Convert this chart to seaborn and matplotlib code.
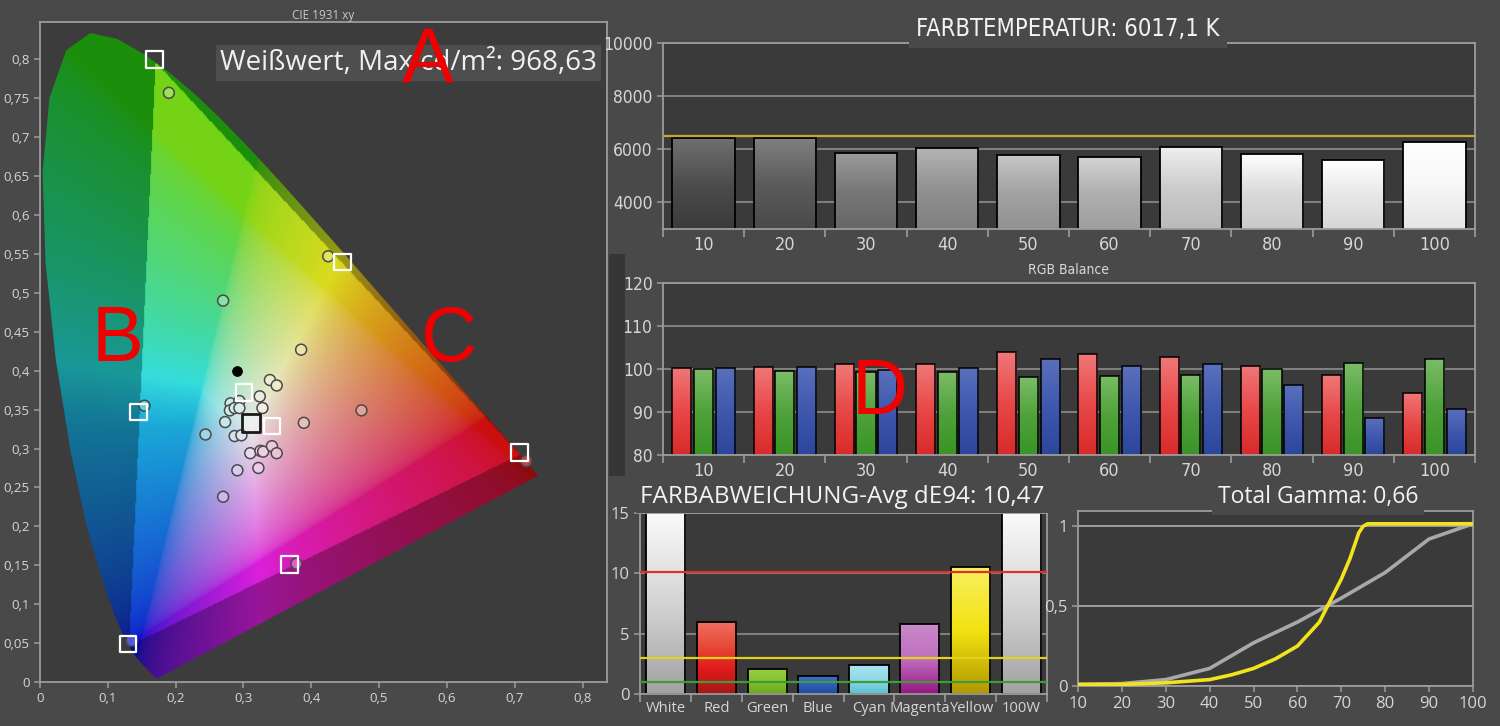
import numpy as np
import pandas as pd
import matplotlib
matplotlib.use("Agg")
import matplotlib.pyplot as plt
import matplotlib.colors as mcolors
from matplotlib import font_manager as fm
from matplotlib.patches import Polygon, Rectangle
from matplotlib.path import Path
import seaborn as sns

# ---------------- data ----------------
locus_x = [0.1741, 0.1740, 0.1738, 0.1736, 0.1733, 0.1730, 0.1726, 0.1721, 0.1714, 0.1703,
           0.1689, 0.1669, 0.1644, 0.1611, 0.1566, 0.1510, 0.1440, 0.1355, 0.1241, 0.1096,
           0.0913, 0.0687, 0.0454, 0.0235, 0.0082, 0.0039, 0.0139, 0.0389, 0.0743, 0.1142,
           0.1547, 0.1929, 0.2296, 0.2658, 0.3016, 0.3373, 0.3731, 0.4087, 0.4441, 0.4788,
           0.5125, 0.5448, 0.5752, 0.6029, 0.6270, 0.6482, 0.6658, 0.6801, 0.6915, 0.7006,
           0.7079, 0.7140, 0.7190, 0.7230, 0.7260, 0.7283, 0.7300, 0.7311, 0.7320, 0.7334, 0.7347]
locus_y = [0.0050, 0.0050, 0.0049, 0.0049, 0.0048, 0.0048, 0.0048, 0.0048, 0.0051, 0.0058,
           0.0069, 0.0086, 0.0109, 0.0138, 0.0177, 0.0227, 0.0297, 0.0399, 0.0578, 0.0868,
           0.1327, 0.2007, 0.2950, 0.4127, 0.5384, 0.6548, 0.7502, 0.8120, 0.8338, 0.8262,
           0.8059, 0.7816, 0.7543, 0.7243, 0.6923, 0.6589, 0.6245, 0.5896, 0.5547, 0.5202,
           0.4866, 0.4544, 0.4242, 0.3965, 0.3725, 0.3514, 0.3340, 0.3197, 0.3083, 0.2993,
           0.2920, 0.2859, 0.2809, 0.2770, 0.2740, 0.2717, 0.2700, 0.2689, 0.2680, 0.2666, 0.2653]
gamut_x = [0.170, 0.708, 0.131]
gamut_y = [0.797, 0.292, 0.046]

meas_x = [0.190, 0.425, 0.270, 0.385, 0.339, 0.349, 0.324, 0.281, 0.294, 0.280, 0.287, 0.294,
          0.328, 0.474, 0.273, 0.389, 0.244, 0.287, 0.297, 0.154, 0.310, 0.325, 0.329, 0.342,
          0.349, 0.322, 0.291, 0.270, 0.378, 0.135, 0.717]
meas_y = [0.757, 0.547, 0.490, 0.427, 0.388, 0.381, 0.367, 0.358, 0.361, 0.349, 0.352, 0.352,
          0.352, 0.349, 0.334, 0.333, 0.318, 0.316, 0.317, 0.355, 0.294, 0.297, 0.296, 0.303,
          0.294, 0.275, 0.272, 0.238, 0.152, 0.053, 0.284]
dot_x = [0.291]
dot_y = [0.400]
target_x = [0.169, 0.446, 0.145, 0.301, 0.342, 0.130, 0.368, 0.707]
target_y = [0.800, 0.540, 0.347, 0.372, 0.329, 0.049, 0.151, 0.295]
whitepoint_x = [0.311]
whitepoint_y = [0.333]

steps = ["10", "20", "30", "40", "50", "60", "70", "80", "90", "100"]
cct_values = [6410, 6410, 5875, 6060, 5790, 5700, 6100, 5840, 5590, 6290]
cct_target = 6510

rgb_red = [100.3, 100.5, 101.1, 101.1, 104.0, 103.6, 102.7, 100.8, 98.6, 94.5]
rgb_green = [99.9, 99.5, 99.2, 99.2, 98.1, 98.4, 98.6, 100.0, 101.4, 102.4]
rgb_blue = [100.3, 100.5, 99.8, 100.3, 102.4, 100.6, 101.1, 96.2, 88.6, 90.8]

de_labels = ["White", "Red", "Green", "Blue", "Cyan", "Magenta", "Yellow", "100W"]
de_values = [16.0, 6.0, 2.1, 1.5, 2.4, 5.8, 10.5, 16.0]
de_limits = [10.1, 3.0, 1.0]

gamma_steps = [10, 20, 30, 40, 50, 60, 70, 80, 90, 100]
gamma_target = [0.01, 0.015, 0.04, 0.11, 0.27, 0.40, 0.55, 0.71, 0.92, 1.015]
gamma_meas_x = [10, 20, 30, 40, 45, 50, 55, 60, 65, 70, 72, 74, 75, 76, 80, 90, 100]
gamma_meas_y = [0.01, 0.01, 0.02, 0.04, 0.07, 0.11, 0.17, 0.25, 0.40, 0.67, 0.80, 0.96,
                1.0, 1.015, 1.015, 1.015, 1.015]

cie_title = "CIE 1931 xy"
lum_text = "Weißwert, Max cd/m²: 968,63"
cct_title = "FARBTEMPERATUR: 6017,1 K"
rgb_title = "RGB Balance"
de_title = "FARBABWEICHUNG-Avg dE94: 10,47"
gamma_title = "Total Gamma: 0,66"
overlay_letters = ["A", "B", "C", "D"]

# ---------------- style ----------------
FIG_BG = "#494949"
AX_BG = "#3a3a3a"
SPINE = "#9c9c9c"
GRID = "#8e8e8e"
TICKLAB = "#d6d6d6"

sns.set_theme(style="dark", rc={
    "figure.facecolor": FIG_BG,
    "axes.facecolor": AX_BG,
    "savefig.facecolor": FIG_BG,
    "text.color": "#eeeeee",
    "axes.edgecolor": SPINE,
})
plt.rcParams["font.family"] = ["Open Sans", "DejaVu Sans"]


def pick_narrow():
    for fam, stretch in [("Liberation Sans Narrow", "normal"), ("DejaVu Sans", "condensed")]:
        try:
            fp = fm.FontProperties(family=fam, stretch=stretch)
            path = fm.findfont(fp, fallback_to_default=False)
            if stretch == "condensed" and "ondensed" not in path:
                continue
            return fm.FontProperties(fname=path), 1.0
        except Exception:
            continue
    return fm.FontProperties(family="Open Sans"), 0.82


NARROW_FP, NARROW_SCALE = pick_narrow()

fig = plt.figure(figsize=(15, 7.26), dpi=100)
W, H = 1500.0, 726.0


def narrow(size):
    fp = NARROW_FP.copy()
    fp.set_size(size * NARROW_SCALE)
    return fp


def add_ax(left, top, right, bottom):
    return fig.add_axes([left / W, 1 - bottom / H, (right - left) / W, (bottom - top) / H])


def style_ax(ax, labelsize=10):
    for s in ax.spines.values():
        s.set_visible(True)
        s.set_color(SPINE)
        s.set_linewidth(1.3)
    ax.tick_params(axis="both", which="both", colors=SPINE, labelcolor=TICKLAB,
                   labelsize=labelsize, direction="out", length=4, width=1.1,
                   bottom=True, left=True)


def comma(v):
    return f"{v:g}".replace(".", ",")


def gradient(ax, patch, stops):
    x0, y0 = patch.get_x(), patch.get_y()
    w, h = patch.get_width(), patch.get_height()
    lo, hi = ax.get_ylim()
    ya, yb = max(min(y0, y0 + h), lo), min(max(y0, y0 + h), hi)
    cmap = mcolors.LinearSegmentedColormap.from_list("g", stops)
    arr = np.linspace(0, 1, 128)[:, None]
    im = ax.imshow(arr, cmap=cmap, extent=(x0, x0 + w, ya, yb), origin="lower",
                   aspect="auto", interpolation="bilinear", zorder=patch.get_zorder() - 0.01)
    im.set_clip_path(patch)
    patch.set_facecolor("none")


def cat_xticks(ax, labels, labelsize, fp=None):
    n = len(labels)
    ax.set_xticks(np.arange(n))
    ax.set_xticklabels(labels)
    ax.set_xticks(np.arange(n + 1) - 0.5, minor=True)
    ax.tick_params(axis="x", which="major", length=0, pad=5, labelsize=labelsize, labelcolor=TICKLAB)
    ax.tick_params(axis="x", which="minor", length=6, width=1.2, colors=SPINE)
    if fp is not None:
        for lab in ax.get_xticklabels():
            lab.set_fontproperties(fp)


# ---------------- CIE diagram ----------------
M = np.array([[3.2406, -1.5372, -0.4986], [-0.9689, 1.8758, 0.0415], [0.0557, -0.2040, 1.0570]])
tri_path = Path(np.column_stack([gamut_x, gamut_y]))


def xy_color(x, y):
    x = np.asarray(x, float)
    y = np.maximum(np.asarray(y, float), 1e-4)
    XYZ = np.stack([x / y, np.ones_like(x), (1 - x - y) / y], -1)
    rgb = np.clip(XYZ @ M.T, 0, None)
    rgb = rgb / np.maximum(rgb.max(-1, keepdims=True), 1e-9)
    rgb = rgb ** (1 / 2.2)
    inside = tri_path.contains_points(np.column_stack([x.ravel(), y.ravel()])).reshape(x.shape)
    r, g, b = rgb[..., 0], rgb[..., 1], rgb[..., 2]
    boost = np.where(inside, 0.5, 0.12)
    r2 = r + boost * g * (1 - b) * (1 - r)
    g2 = g * (1 - 0.25 * b * (1 - r))
    b2 = b * (1 - 0.3 * g * (1 - r) * (1 - b))
    rgb = np.stack([r2, g2, b2], -1)
    rgb = rgb / np.maximum(rgb.max(-1, keepdims=True), 1e-9)
    lum = rgb.mean(-1, keepdims=True)
    rgb = 0.8 * rgb + 0.2 * lum
    fac = np.where(inside, 0.92, 0.64)[..., None]
    return np.clip(rgb * fac, 0, 1)


ax1 = add_ax(40, 22, 607, 682)
ax1.set_facecolor("#3c3c3c")

gx = np.linspace(0, 0.76, 520)
gy = np.linspace(0, 0.86, 560)
GX, GY = np.meshgrid(gx, gy)
img = xy_color(GX, GY)
locus_poly = Polygon(np.column_stack([locus_x, locus_y]), closed=True, fc="none", ec="none")
ax1.add_patch(locus_poly)
im = ax1.imshow(img, extent=(0, 0.76, 0, 0.86), origin="lower", aspect="auto",
                interpolation="bilinear", zorder=1)
im.set_clip_path(locus_poly)

meas_cols = xy_color(np.array(meas_x), np.array(meas_y))
meas_face = meas_cols * 0.72 + 0.28
hue_ids = [str(i) for i in range(len(meas_x))]
sns.scatterplot(x=meas_x, y=meas_y, hue=hue_ids,
                palette={h: tuple(c) for h, c in zip(hue_ids, meas_face)},
                s=62, edgecolor="#4a4a4a", linewidth=1.1, legend=False, ax=ax1, zorder=4)
sns.scatterplot(x=target_x, y=target_y, marker="s", s=140, color="none",
                edgecolor="white", linewidth=1.6, legend=False, ax=ax1, zorder=5)
sns.scatterplot(x=whitepoint_x, y=whitepoint_y, marker="s", s=170, color=(1, 1, 1, 0.35),
                edgecolor="#1a1a1a", linewidth=2.0, legend=False, ax=ax1, zorder=5)
sns.scatterplot(x=dot_x, y=dot_y, s=50, color="black", edgecolor="black", legend=False,
                ax=ax1, zorder=5)
ax1.set_xlim(0, 0.836)
ax1.set_ylim(0, 0.848)

xt = np.round(np.arange(0, 0.81, 0.1), 2)
yt = np.round(np.arange(0, 0.801, 0.05), 2)
ax1.set_xticks(xt)
ax1.set_xticklabels([comma(v) for v in xt])
ax1.set_yticks(yt)
ax1.set_yticklabels([comma(v) for v in yt])
ax1.set_xlabel("")
ax1.set_ylabel("")
style_ax(ax1, labelsize=9.5)
ax1.grid(False)

fig.text(323 / W, 1 - 16 / H, cie_title, ha="center", va="center", fontsize=8.5, color="#c8c8c8")
fig.text(220 / W, 1 - 63 / H, lum_text, ha="left", va="center", fontsize=20, color="#f0f0f0",
         bbox=dict(facecolor="#4e4e4e", edgecolor="none", pad=3), zorder=10)

# ---------------- colour temperature ----------------
ax2 = add_ax(663, 43, 1475, 229)
grey_levels = [0.30, 0.36, 0.47, 0.57, 0.64, 0.69, 0.80, 0.86, 0.91, 0.97]
cct_palette = {s: (g, g, g) for s, g in zip(steps, grey_levels)}
sns.barplot(x=steps, y=cct_values, hue=steps, palette=cct_palette, width=0.77,
            edgecolor="black", linewidth=1.3, legend=False, ax=ax2, zorder=2)
ax2.set_ylim(3000, 10000)
ax2.set_xlim(-0.5, 9.5)
ax2.set_yticks([4000, 6000, 8000, 10000])
ax2.grid(axis="y", color=GRID, linewidth=1.2)
ax2.set_axisbelow(True)
ax2.axhline(cct_target, color="#c9a535", linewidth=1.6, zorder=4)
for p, g in zip(ax2.patches, grey_levels):
    top = min(g + 0.14, 1.0)
    bot = max(g - 0.07, 0.15)
    gradient(ax2, p, [(bot,) * 3, (g,) * 3, (top,) * 3])
ax2.set_ylim(3000, 10000)
ax2.set_xlim(-0.5, 9.5)
ax2.set_xlabel("")
ax2.set_ylabel("")
style_ax(ax2)
for lab in ax2.get_yticklabels():
    lab.set_fontproperties(narrow(12.5))
cat_xticks(ax2, steps, 12.5, narrow(13))
fig.text(1068 / W, 1 - 29 / H, cct_title, ha="center", va="center", fontproperties=narrow(17),
         color="#f2f2f2", bbox=dict(facecolor=FIG_BG, edgecolor="none", pad=5), zorder=10)

# ---------------- RGB balance ----------------
ax3 = add_ax(663, 283, 1475, 455)
rgb_df = pd.DataFrame({
    "step": steps * 3,
    "value": rgb_red + rgb_green + rgb_blue,
    "channel": ["R"] * 10 + ["G"] * 10 + ["B"] * 10,
})
rgb_pal = {"R": "#e64545", "G": "#4fa23a", "B": "#3f58ad"}
sns.barplot(data=rgb_df, x="step", y="value", hue="channel", palette=rgb_pal, width=0.8,
            gap=0.12, edgecolor="black", linewidth=1.1, legend=False, ax=ax3, zorder=2)
ax3.set_ylim(80, 120)
ax3.set_xlim(-0.5, 9.5)
ax3.set_yticks([80, 90, 100, 110, 120])
ax3.grid(axis="y", color=GRID, linewidth=1.2)
ax3.set_axisbelow(True)
rgb_stops = {
    "R": ["#d82a2a", "#e84848", "#f07878"],
    "G": ["#3a9426", "#4fa23a", "#7cbc68"],
    "B": ["#2c469c", "#3f58ad", "#5a70bd"],
}
chan_order = ["R"] * 10 + ["G"] * 10 + ["B"] * 10
for p, ch in zip(list(ax3.patches), chan_order):
    gradient(ax3, p, rgb_stops[ch])
ax3.set_ylim(80, 120)
ax3.set_xlim(-0.5, 9.5)
ax3.set_xlabel("")
ax3.set_ylabel("")
style_ax(ax3)
for lab in ax3.get_yticklabels():
    lab.set_fontproperties(narrow(12.5))
cat_xticks(ax3, steps, 12.5, narrow(13))
fig.text(1068 / W, 1 - 270 / H, rgb_title, ha="center", va="center", fontproperties=narrow(10),
         color="#d8d8d8")

# dark strip left of the RGB panel
fig.patches.append(Rectangle((609 / W, 1 - 476 / H), 16 / W, 222 / H, transform=fig.transFigure,
                             facecolor="#363636", edgecolor="none", zorder=0))

# ---------------- colour deviation ----------------
ax4 = add_ax(640, 513, 1047, 694)
de_pal = {"White": "#e0e0e0", "Red": "#e02a2a", "Green": "#8cc63f", "Blue": "#2f5fb8",
          "Cyan": "#90d8e8", "Magenta": "#c070c0", "Yellow": "#f0e010", "100W": "#e0e0e0"}
de_stops = {
    "White": ["#a2a2a2", "#d4d4d4", "#fbfbfb"],
    "Red": ["#a51818", "#e01a1a", "#e84a3a", "#f07060"],
    "Green": ["#6aa818", "#86c232", "#9ccd45"],
    "Blue": ["#1f48a0", "#2f5fb8", "#4272c6"],
    "Cyan": ["#58c0d2", "#92d8e8", "#a8e4f0"],
    "Magenta": ["#951680", "#bf6ebf", "#c88ac8"],
    "Yellow": ["#b09800", "#f2e210", "#f8f060"],
    "100W": ["#a2a2a2", "#d4d4d4", "#fbfbfb"],
}
sns.barplot(x=de_labels, y=de_values, hue=de_labels, palette=de_pal, width=0.77,
            edgecolor="black", linewidth=1.3, legend=False, ax=ax4, zorder=2)
ax4.set_ylim(0, 15)
ax4.set_xlim(-0.45, 7.5)
ax4.set_yticks([0, 5, 10, 15])
ax4.grid(axis="y", color=GRID, linewidth=1.2)
ax4.set_axisbelow(True)
for p, lab in zip(list(ax4.patches), de_labels):
    gradient(ax4, p, de_stops[lab])
for v, c in zip(de_limits, ["#e0302a", "#e2d21e", "#3f9a3a"]):
    ax4.axhline(v, color=c, linewidth=1.6, zorder=4)
ax4.set_ylim(0, 15)
ax4.set_xlim(-0.45, 7.5)
ax4.set_xlabel("")
ax4.set_ylabel("")
style_ax(ax4, labelsize=12)
cat_xticks(ax4, de_labels, 10.6)
fig.text(640 / W, 1 - 497 / H, de_title, ha="left", va="center", fontsize=17.5, color="#f2f2f2",
         bbox=dict(facecolor=FIG_BG, edgecolor="none", pad=3), zorder=10)

# ---------------- gamma ----------------
ax5 = add_ax(1078, 511, 1473, 686)
sns.lineplot(x=gamma_steps, y=gamma_target, color="#a8a8a8", linewidth=2.6, ax=ax5, zorder=3)
sns.lineplot(x=gamma_meas_x, y=gamma_meas_y, color="#f2e41c", linewidth=2.6, ax=ax5, zorder=4)
ax5.set_xlim(10, 100)
ax5.set_ylim(0, 1.095)
ax5.set_xticks(gamma_steps)
ax5.set_yticks([0, 0.5, 1])
ax5.set_yticklabels(["0", "0,5", "1"])
ax5.grid(axis="y", color="#b0b0b0", linewidth=1.2)
ax5.set_axisbelow(True)
ax5.set_xlabel("")
ax5.set_ylabel("")
style_ax(ax5, labelsize=12)
fig.text(1318 / W, 1 - 497 / H, gamma_title, ha="center", va="center", fontsize=16.5,
         color="#f2f2f2", bbox=dict(facecolor=FIG_BG, edgecolor="none", pad=4), zorder=10)

# ---------------- overlay letters ----------------
letter_pos = [(428, 62), (118, 340), (449, 340), (880, 393)]
for t, (px, py) in zip(overlay_letters, letter_pos):
    fig.text(px / W, 1 - py / H, t, ha="center", va="center", fontsize=56,
             family=["Liberation Sans", "DejaVu Sans"], color="#f00000", zorder=20)

fig.savefig("out.png", dpi=100, facecolor=FIG_BG)
